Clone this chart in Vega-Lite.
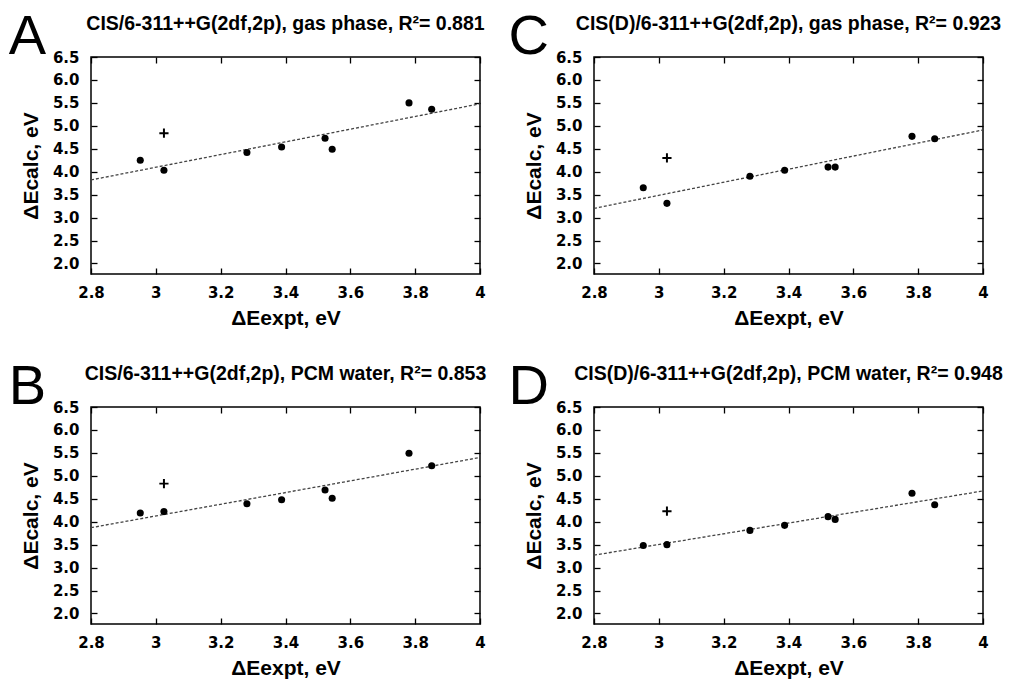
{
  "$schema": "https://vega.github.io/schema/vega-lite/v6.json",
  "padding": {"left": 7, "top": 8, "right": 0, "bottom": 0},
  "background": "white",
  "datasets": {
    "points": [
      {"panel": "A", "expt": 2.952, "calc": 4.25, "kind": "fit"},
      {"panel": "A", "expt": 3.025, "calc": 4.03, "kind": "fit"},
      {"panel": "A", "expt": 3.281, "calc": 4.42, "kind": "fit"},
      {"panel": "A", "expt": 3.388, "calc": 4.54, "kind": "fit"},
      {"panel": "A", "expt": 3.522, "calc": 4.73, "kind": "fit"},
      {"panel": "A", "expt": 3.544, "calc": 4.49, "kind": "fit"},
      {"panel": "A", "expt": 3.781, "calc": 5.5, "kind": "fit"},
      {"panel": "A", "expt": 3.851, "calc": 5.36, "kind": "fit"},
      {"panel": "A", "expt": 3.025, "calc": 4.84, "kind": "excluded"},
      {"panel": "B", "expt": 2.952, "calc": 4.19, "kind": "fit"},
      {"panel": "B", "expt": 3.025, "calc": 4.22, "kind": "fit"},
      {"panel": "B", "expt": 3.281, "calc": 4.39, "kind": "fit"},
      {"panel": "B", "expt": 3.388, "calc": 4.48, "kind": "fit"},
      {"panel": "B", "expt": 3.522, "calc": 4.69, "kind": "fit"},
      {"panel": "B", "expt": 3.544, "calc": 4.51, "kind": "fit"},
      {"panel": "B", "expt": 3.781, "calc": 5.49, "kind": "fit"},
      {"panel": "B", "expt": 3.851, "calc": 5.22, "kind": "fit"},
      {"panel": "B", "expt": 3.025, "calc": 4.83, "kind": "excluded"},
      {"panel": "C", "expt": 2.952, "calc": 3.65, "kind": "fit"},
      {"panel": "C", "expt": 3.025, "calc": 3.31, "kind": "fit"},
      {"panel": "C", "expt": 3.281, "calc": 3.9, "kind": "fit"},
      {"panel": "C", "expt": 3.388, "calc": 4.03, "kind": "fit"},
      {"panel": "C", "expt": 3.522, "calc": 4.1, "kind": "fit"},
      {"panel": "C", "expt": 3.544, "calc": 4.1, "kind": "fit"},
      {"panel": "C", "expt": 3.781, "calc": 4.77, "kind": "fit"},
      {"panel": "C", "expt": 3.851, "calc": 4.72, "kind": "fit"},
      {"panel": "C", "expt": 3.025, "calc": 4.3, "kind": "excluded"},
      {"panel": "D", "expt": 2.952, "calc": 3.48, "kind": "fit"},
      {"panel": "D", "expt": 3.025, "calc": 3.5, "kind": "fit"},
      {"panel": "D", "expt": 3.281, "calc": 3.81, "kind": "fit"},
      {"panel": "D", "expt": 3.388, "calc": 3.92, "kind": "fit"},
      {"panel": "D", "expt": 3.522, "calc": 4.11, "kind": "fit"},
      {"panel": "D", "expt": 3.544, "calc": 4.05, "kind": "fit"},
      {"panel": "D", "expt": 3.781, "calc": 4.62, "kind": "fit"},
      {"panel": "D", "expt": 3.851, "calc": 4.37, "kind": "fit"},
      {"panel": "D", "expt": 3.025, "calc": 4.23, "kind": "excluded"}
    ],
    "fits": [
      {"panel": "A", "expt": 2.8, "calc": 3.82},
      {"panel": "A", "expt": 4.0, "calc": 5.48},
      {"panel": "B", "expt": 2.8, "calc": 3.87},
      {"panel": "B", "expt": 4.0, "calc": 5.4},
      {"panel": "C", "expt": 2.8, "calc": 3.2},
      {"panel": "C", "expt": 4.0, "calc": 4.91},
      {"panel": "D", "expt": 2.8, "calc": 3.27},
      {"panel": "D", "expt": 4.0, "calc": 4.67}
    ],
    "letters": [
      {"panel": "A", "letter": "A"},
      {"panel": "B", "letter": "B"},
      {"panel": "C", "letter": "C"},
      {"panel": "D", "letter": "D"}
    ]
  },
  "columns": 2,
  "spacing": {"row": 133, "column": 114},
  "bounds": "flush",
  "concat": [
    {
      "width": 389, "height": 217,
      "title": "CIS/6-311++G(2df,2p), gas phase, R²= 0.881",
      "layer": [
        {
          "data": {"name": "fits"},
          "transform": [{"filter": "datum.panel === 'A'"}],
          "mark": {"type": "line", "color": "#444444", "strokeWidth": 1.3, "strokeDash": [3, 2]},
          "encoding": {
            "x": {"field": "expt", "type": "quantitative", "scale": {"domain": [2.8, 4.0], "nice": false, "zero": false}, "axis": {"orient": "top", "labels": false, "title": null, "values": [2.8, 3.0, 3.2, 3.4, 3.6, 3.8, 4.0]}},
            "y": {"field": "calc", "type": "quantitative", "scale": {"domain": [1.77, 6.5], "nice": false, "zero": false}, "axis": {"orient": "right", "labels": false, "title": null, "values": [2.0, 2.5, 3.0, 3.5, 4.0, 4.5, 5.0, 5.5, 6.0, 6.5]}}
          }
        },
        {
          "data": {"name": "points"},
          "transform": [{"filter": "datum.panel === 'A'"}],
          "mark": {"type": "point", "filled": true, "color": "black", "opacity": 1, "size": 50},
          "encoding": {
            "x": {"field": "expt", "type": "quantitative", "axis": {"orient": "bottom", "title": "ΔEexpt, eV", "format": "~g", "values": [2.8, 3.0, 3.2, 3.4, 3.6, 3.8, 4.0]}},
            "y": {"field": "calc", "type": "quantitative", "axis": {"orient": "left", "title": "ΔEcalc, eV", "format": ".1f", "values": [2.0, 2.5, 3.0, 3.5, 4.0, 4.5, 5.0, 5.5, 6.0, 6.5]}},
            "shape": {"field": "kind", "type": "nominal", "scale": {"domain": ["fit", "excluded"], "range": ["circle", "M-1.3,-0.28H1.3V0.28H-1.3Z M-0.28,-1.3H0.28V1.3H-0.28Z"]}, "legend": null}
          }
        },
        {
          "data": {"name": "letters"},
          "transform": [{"filter": "datum.panel === 'A'"}],
          "mark": {"type": "text", "align": "right", "baseline": "alphabetic", "dx": -45, "dy": -3, "fontSize": 56, "font": "Liberation Sans", "fontWeight": "normal", "color": "black"},
          "encoding": {
            "x": {"datum": 2.8, "type": "quantitative", "axis": null},
            "y": {"datum": 6.5, "type": "quantitative", "axis": null},
            "text": {"field": "letter"}
          }
        }
      ],
      "resolve": {"axis": {"x": "independent", "y": "independent"}}
    },
    {
      "width": 389, "height": 217,
      "title": "CIS(D)/6-311++G(2df,2p), gas phase, R²= 0.923",
      "layer": [
        {
          "data": {"name": "fits"},
          "transform": [{"filter": "datum.panel === 'C'"}],
          "mark": {"type": "line", "color": "#444444", "strokeWidth": 1.3, "strokeDash": [3, 2]},
          "encoding": {
            "x": {"field": "expt", "type": "quantitative", "scale": {"domain": [2.8, 4.0], "nice": false, "zero": false}, "axis": {"orient": "top", "labels": false, "title": null, "values": [2.8, 3.0, 3.2, 3.4, 3.6, 3.8, 4.0]}},
            "y": {"field": "calc", "type": "quantitative", "scale": {"domain": [1.77, 6.5], "nice": false, "zero": false}, "axis": {"orient": "right", "labels": false, "title": null, "values": [2.0, 2.5, 3.0, 3.5, 4.0, 4.5, 5.0, 5.5, 6.0, 6.5]}}
          }
        },
        {
          "data": {"name": "points"},
          "transform": [{"filter": "datum.panel === 'C'"}],
          "mark": {"type": "point", "filled": true, "color": "black", "opacity": 1, "size": 50},
          "encoding": {
            "x": {"field": "expt", "type": "quantitative", "axis": {"orient": "bottom", "title": "ΔEexpt, eV", "format": "~g", "values": [2.8, 3.0, 3.2, 3.4, 3.6, 3.8, 4.0]}},
            "y": {"field": "calc", "type": "quantitative", "axis": {"orient": "left", "title": "ΔEcalc, eV", "format": ".1f", "values": [2.0, 2.5, 3.0, 3.5, 4.0, 4.5, 5.0, 5.5, 6.0, 6.5]}},
            "shape": {"field": "kind", "type": "nominal", "scale": {"domain": ["fit", "excluded"], "range": ["circle", "M-1.3,-0.28H1.3V0.28H-1.3Z M-0.28,-1.3H0.28V1.3H-0.28Z"]}, "legend": null}
          }
        },
        {
          "data": {"name": "letters"},
          "transform": [{"filter": "datum.panel === 'C'"}],
          "mark": {"type": "text", "align": "right", "baseline": "alphabetic", "dx": -45, "dy": -3, "fontSize": 56, "font": "Liberation Sans", "fontWeight": "normal", "color": "black"},
          "encoding": {
            "x": {"datum": 2.8, "type": "quantitative", "axis": null},
            "y": {"datum": 6.5, "type": "quantitative", "axis": null},
            "text": {"field": "letter"}
          }
        }
      ],
      "resolve": {"axis": {"x": "independent", "y": "independent"}}
    },
    {
      "width": 389, "height": 217,
      "title": "CIS/6-311++G(2df,2p), PCM water, R²= 0.853",
      "layer": [
        {
          "data": {"name": "fits"},
          "transform": [{"filter": "datum.panel === 'B'"}],
          "mark": {"type": "line", "color": "#444444", "strokeWidth": 1.3, "strokeDash": [3, 2]},
          "encoding": {
            "x": {"field": "expt", "type": "quantitative", "scale": {"domain": [2.8, 4.0], "nice": false, "zero": false}, "axis": {"orient": "top", "labels": false, "title": null, "values": [2.8, 3.0, 3.2, 3.4, 3.6, 3.8, 4.0]}},
            "y": {"field": "calc", "type": "quantitative", "scale": {"domain": [1.77, 6.5], "nice": false, "zero": false}, "axis": {"orient": "right", "labels": false, "title": null, "values": [2.0, 2.5, 3.0, 3.5, 4.0, 4.5, 5.0, 5.5, 6.0, 6.5]}}
          }
        },
        {
          "data": {"name": "points"},
          "transform": [{"filter": "datum.panel === 'B'"}],
          "mark": {"type": "point", "filled": true, "color": "black", "opacity": 1, "size": 50},
          "encoding": {
            "x": {"field": "expt", "type": "quantitative", "axis": {"orient": "bottom", "title": "ΔEexpt, eV", "format": "~g", "values": [2.8, 3.0, 3.2, 3.4, 3.6, 3.8, 4.0]}},
            "y": {"field": "calc", "type": "quantitative", "axis": {"orient": "left", "title": "ΔEcalc, eV", "format": ".1f", "values": [2.0, 2.5, 3.0, 3.5, 4.0, 4.5, 5.0, 5.5, 6.0, 6.5]}},
            "shape": {"field": "kind", "type": "nominal", "scale": {"domain": ["fit", "excluded"], "range": ["circle", "M-1.3,-0.28H1.3V0.28H-1.3Z M-0.28,-1.3H0.28V1.3H-0.28Z"]}, "legend": null}
          }
        },
        {
          "data": {"name": "letters"},
          "transform": [{"filter": "datum.panel === 'B'"}],
          "mark": {"type": "text", "align": "right", "baseline": "alphabetic", "dx": -45, "dy": -3, "fontSize": 56, "font": "Liberation Sans", "fontWeight": "normal", "color": "black"},
          "encoding": {
            "x": {"datum": 2.8, "type": "quantitative", "axis": null},
            "y": {"datum": 6.5, "type": "quantitative", "axis": null},
            "text": {"field": "letter"}
          }
        }
      ],
      "resolve": {"axis": {"x": "independent", "y": "independent"}}
    },
    {
      "width": 389, "height": 217,
      "title": "CIS(D)/6-311++G(2df,2p), PCM water, R²= 0.948",
      "layer": [
        {
          "data": {"name": "fits"},
          "transform": [{"filter": "datum.panel === 'D'"}],
          "mark": {"type": "line", "color": "#444444", "strokeWidth": 1.3, "strokeDash": [3, 2]},
          "encoding": {
            "x": {"field": "expt", "type": "quantitative", "scale": {"domain": [2.8, 4.0], "nice": false, "zero": false}, "axis": {"orient": "top", "labels": false, "title": null, "values": [2.8, 3.0, 3.2, 3.4, 3.6, 3.8, 4.0]}},
            "y": {"field": "calc", "type": "quantitative", "scale": {"domain": [1.77, 6.5], "nice": false, "zero": false}, "axis": {"orient": "right", "labels": false, "title": null, "values": [2.0, 2.5, 3.0, 3.5, 4.0, 4.5, 5.0, 5.5, 6.0, 6.5]}}
          }
        },
        {
          "data": {"name": "points"},
          "transform": [{"filter": "datum.panel === 'D'"}],
          "mark": {"type": "point", "filled": true, "color": "black", "opacity": 1, "size": 50},
          "encoding": {
            "x": {"field": "expt", "type": "quantitative", "axis": {"orient": "bottom", "title": "ΔEexpt, eV", "format": "~g", "values": [2.8, 3.0, 3.2, 3.4, 3.6, 3.8, 4.0]}},
            "y": {"field": "calc", "type": "quantitative", "axis": {"orient": "left", "title": "ΔEcalc, eV", "format": ".1f", "values": [2.0, 2.5, 3.0, 3.5, 4.0, 4.5, 5.0, 5.5, 6.0, 6.5]}},
            "shape": {"field": "kind", "type": "nominal", "scale": {"domain": ["fit", "excluded"], "range": ["circle", "M-1.3,-0.28H1.3V0.28H-1.3Z M-0.28,-1.3H0.28V1.3H-0.28Z"]}, "legend": null}
          }
        },
        {
          "data": {"name": "letters"},
          "transform": [{"filter": "datum.panel === 'D'"}],
          "mark": {"type": "text", "align": "right", "baseline": "alphabetic", "dx": -45, "dy": -3, "fontSize": 56, "font": "Liberation Sans", "fontWeight": "normal", "color": "black"},
          "encoding": {
            "x": {"datum": 2.8, "type": "quantitative", "axis": null},
            "y": {"datum": 6.5, "type": "quantitative", "axis": null},
            "text": {"field": "letter"}
          }
        }
      ],
      "resolve": {"axis": {"x": "independent", "y": "independent"}}
    }
  ],
  "config": {
    "font": "Liberation Sans",
    "view": {"stroke": "black", "strokeWidth": 1.5},
    "axis": {
      "domain": false,
      "grid": false,
      "ticks": true,
      "tickSize": -6,
      "tickWidth": 1.3,
      "tickColor": "black",
      "labelFont": "DejaVu Sans",
      "labelFontWeight": "bold",
      "labelFontSize": 15,
      "labelColor": "black",
      "labelFlush": false,
      "labelOverlap": false,
      "labelBound": false,
      "titleFont": "Liberation Sans",
      "titleFontWeight": "bold",
      "titleFontSize": 21,
      "titleColor": "black"
    },
    "axisX": {"labelPadding": 17, "titlePadding": 7},
    "axisY": {"labelPadding": 18, "titlePadding": 11},
    "title": {"font": "Liberation Sans", "fontSize": 19.5, "fontWeight": "bold", "color": "black", "anchor": "middle", "offset": -25}
  }
}
